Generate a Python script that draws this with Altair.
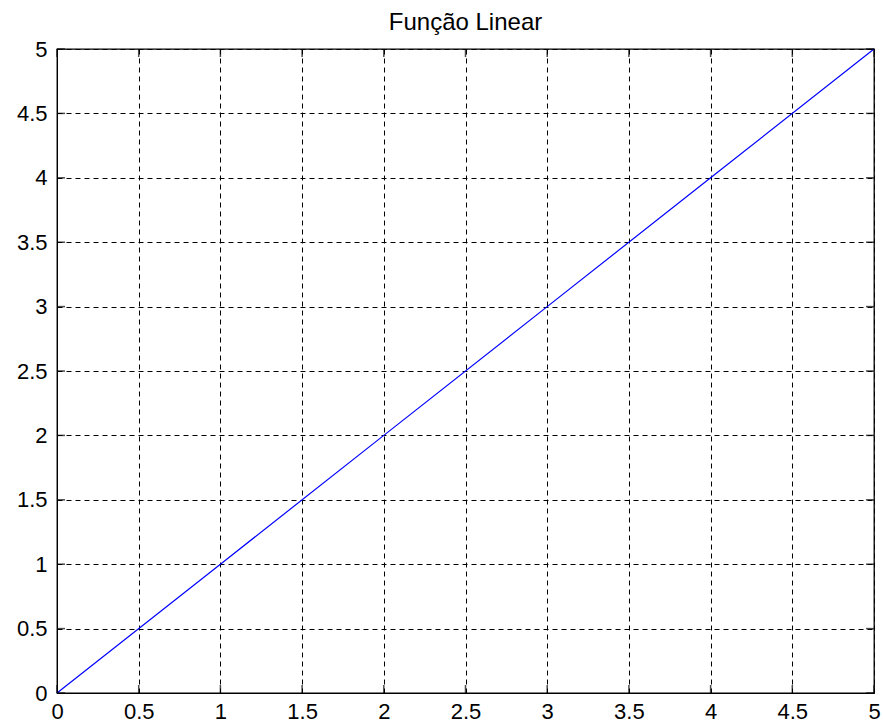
import altair as alt
import pandas as pd

# Data
x_vals = [0, 1, 2, 3, 4, 5]
y_vals = [0, 1, 2, 3, 4, 5]
tick_vals = [0, 0.5, 1, 1.5, 2, 2.5, 3, 3.5, 4, 4.5, 5]
title_text = "Função Linear"

line_df = pd.DataFrame({"x": x_vals, "y": y_vals})
tick_df = pd.DataFrame({"t": tick_vals, "lo": [0] * len(tick_vals), "hi": [5] * len(tick_vals)})

FONT = "Liberation Sans"
FS = 22

xscale = alt.Scale(domain=[0, 5], nice=False, zero=False)
yscale = alt.Scale(domain=[0, 5], nice=False, zero=False)

x_axis = alt.Axis(values=tick_vals, title=None, grid=True, gridColor="black",
                  gridDash=[5, 4], gridOpacity=1, gridWidth=1, ticks=False,
                  domain=True, domainColor="black", labelColor="black",
                  labelFont=FONT, labelFontSize=FS, labelPadding=8,
                  labelFlush=False, labelOverlap=False,
                  labelExpr="format(datum.value, '')")
y_axis = alt.Axis(values=tick_vals, title=None, grid=True, gridColor="black",
                  gridDash=[5, 4], gridOpacity=1, gridWidth=1, ticks=False,
                  domain=True, domainColor="black", labelColor="black",
                  labelFont=FONT, labelFontSize=FS, labelPadding=10,
                  labelFlush=False, labelOverlap=False,
                  labelExpr="format(datum.value, '')")

line = alt.Chart(line_df).mark_line(color="#0000ff", strokeWidth=1.2).encode(
    x=alt.X("x:Q", scale=xscale, axis=x_axis),
    y=alt.Y("y:Q", scale=yscale, axis=y_axis),
)

TL = 8
base_t = alt.Chart(tick_df)
tick_bottom = base_t.mark_tick(color="black", orient="vertical", size=TL, thickness=1.5,
                               yOffset=-TL / 2).encode(
    x=alt.X("t:Q", scale=xscale), y=alt.Y("lo:Q", scale=yscale))
tick_top = base_t.mark_tick(color="black", orient="vertical", size=TL, thickness=1.5,
                            yOffset=TL / 2).encode(
    x=alt.X("t:Q", scale=xscale), y=alt.Y("hi:Q", scale=yscale))
tick_left = base_t.mark_tick(color="black", orient="horizontal", size=TL, thickness=1.5,
                             xOffset=TL / 2).encode(
    y=alt.Y("t:Q", scale=yscale), x=alt.X("lo:Q", scale=xscale))
tick_right = base_t.mark_tick(color="black", orient="horizontal", size=TL, thickness=1.5,
                              xOffset=-TL / 2).encode(
    y=alt.Y("t:Q", scale=yscale), x=alt.X("hi:Q", scale=xscale))

chart = alt.layer(line, tick_bottom, tick_top, tick_left, tick_right).properties(
    width=817, height=644,
    title=alt.TitleParams(title_text, font=FONT, fontSize=24, fontWeight="normal",
                          color="black", anchor="middle", offset=3),
    autosize=alt.AutoSizeParams(type="none"),
    padding={"left": 57, "top": 49, "right": 9, "bottom": 33},
    background="white",
).configure_view(stroke="black", strokeWidth=1.3)

chart.save("out.html", embed_options={"renderer": "svg", "actions": False})
